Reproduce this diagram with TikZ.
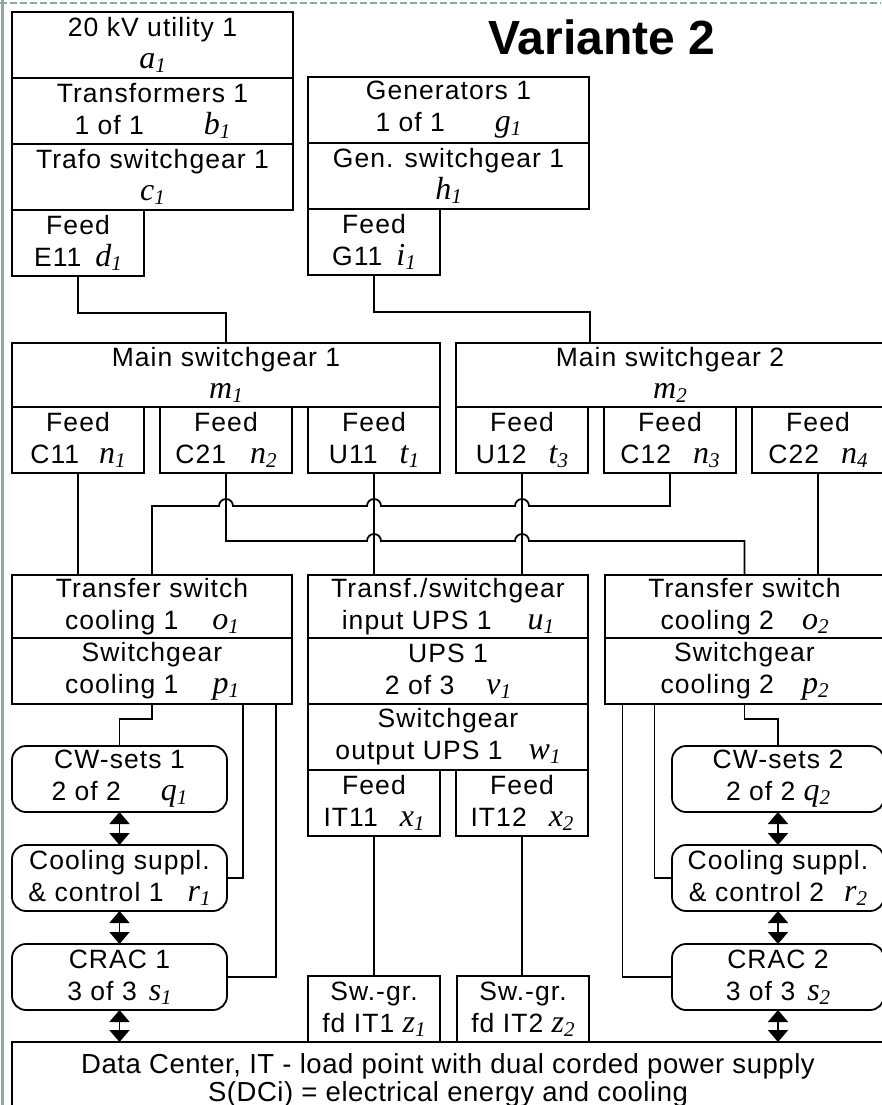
\documentclass[tikz,border=0pt]{standalone}
\usepackage{fontspec}
\setmainfont{Liberation Sans}
\newfontfamily\boxfont[LetterSpace=4]{Liberation Sans}
\newfontfamily\dcfont[LetterSpace=2]{Liberation Sans}
\newfontfamily\varfont{Liberation Serif}
\usetikzlibrary{positioning, arrows.meta}

\definecolor{frameline}{RGB}{140,168,168}

% italic variable with subscript
\newcommand{\vn}[2]{{\varfont\itshape\fontsize{32}{32}\selectfont #1\raisebox{-4pt}{\fontsize{21}{21}\selectfont #2}}}

\begin{document}
\begin{tikzpicture}[x=1pt, y=-1pt, node distance=0pt,
    blk/.style={draw, line width=1.8pt, inner sep=0pt, outer sep=0pt, align=center, font=\boxfont\fontsize{26.5}{32}\selectfont},
    wide/.style={blk, anchor=north west, minimum width=281pt, minimum height=66pt},
    feed/.style={blk, anchor=north west, minimum width=132pt, minimum height=66pt},
    main/.style={blk, anchor=north west, minimum width=428pt, minimum height=64pt},
    unit/.style={blk, anchor=north west, rounded corners=14pt, minimum width=215pt, minimum height=66pt},
    link/.style={line width=1.8pt},
    both/.style={link, {Triangle[width=20pt,length=12pt]}-{Triangle[width=20pt,length=12pt]}}]
        \useasboundingbox (0,0) rectangle (881,1105);

        % Frame
        \draw[frameline, line width=1.5pt, dash pattern=on 7pt off 3pt] (0,3) -- (881,3);
        \draw[frameline, line width=3pt] (2,0) -- (2,1105);

        % Supply
        \node[wide] (a1) at (12,12) {20 kV utility 1\\ \vn{a}{1}};
        \node[wide, below=of a1] (b1) {Transformers 1\\ 1 of 1\hspace{60pt}\vn{b}{1}};
        \node[wide, below=of b1] (c1) {Trafo switchgear 1\\ \vn{c}{1}};
        \node[feed, below=of c1.south west, anchor=north west] (d1) {Feed\\ E11\hspace{14pt}\vn{d}{1}};

        \node[wide] (g1) at (308,77) {Generators 1\\ 1 of 1\hspace{50pt}\vn{g}{1}};
        \node[wide, below=of g1] (h1) {Gen. switchgear 1\\ \vn{h}{1}};
        \node[feed, below=of h1.south west, anchor=north west] (i1) {Feed\\ G11\hspace{14pt}\vn{i}{1}};

        \node[font=\fontsize{48}{48}\selectfont\bfseries] (title) at (602,37) {Variante 2};

        % Main switchgear
        \node[main] (m1) at (12,343) {Main switchgear 1\\ \vn{m}{1}};
        \node[main] (m2) at (456,343) {Main switchgear 2\\ \vn{m}{2}};
        \node[feed, below=of m1.south west, anchor=north west] (n1) {Feed\\ C11\hspace{20pt}\vn{n}{1}};
        \node[feed, right=16pt of n1] (n2) {Feed\\ C21\hspace{24pt}\vn{n}{2}};
        \node[feed, right=16pt of n2] (t1) {Feed\\ U11\hspace{22pt}\vn{t}{1}};
        \node[feed, below=of m2.south west, anchor=north west] (t3) {Feed\\ U12\hspace{22pt}\vn{t}{3}};
        \node[feed, right=16pt of t3] (n3) {Feed\\ C12\hspace{22pt}\vn{n}{3}};
        \node[feed, right=16pt of n3] (n4) {Feed\\ C22\hspace{22pt}\vn{n}{4}};

        % Transfer switches and UPS
        \node[wide, minimum width=280pt, minimum height=63pt] (o1) at (12,575) {Transfer switch\\ cooling 1\hspace{34pt}\vn{o}{1}};
        \node[wide, minimum width=280pt, below=of o1] (p1) {Switchgear\\ cooling 1\hspace{34pt}\vn{p}{1}};
        \node[wide, minimum width=280pt, minimum height=63pt] (u1) at (308,575) {Transf./switchgear\\ input UPS 1\hspace{36pt}\vn{u}{1}};
        \node[wide, minimum width=280pt, below=of u1] (v1) {UPS 1\\ 2 of 3\hspace{32pt}\vn{v}{1}};
        \node[wide, minimum width=280pt, below=of v1] (w1) {Switchgear\\ output UPS 1\hspace{26pt}\vn{w}{1}};
        \node[feed, below=of w1.south west, anchor=north west] (x1) {Feed\\ IT11\hspace{22pt}\vn{x}{1}};
        \node[feed, right=16pt of x1] (x2) {Feed\\ IT12\hspace{22pt}\vn{x}{2}};
        \node[wide, minimum width=279pt, minimum height=63pt] (o2) at (605,575) {Transfer switch\\ cooling 2\hspace{28pt}\vn{o}{2}};
        \node[wide, minimum width=279pt, below=of o2] (p2) {Switchgear\\ cooling 2\hspace{28pt}\vn{p}{2}};

        % Cooling units
        \node[unit] (q1) at (12,746) {CW-sets 1\\ 2 of 2\hspace{40pt}\vn{q}{1}};
        \node[unit, below=33pt of q1] (r1) {Cooling suppl.\\ \& control 1\hspace{24pt}\vn{r}{1}};
        \node[unit, below=33pt of r1] (s1) {CRAC 1\\ 3 of 3\hspace{12pt}\vn{s}{1}};
        \node[unit, minimum width=212pt] (q2) at (672,746) {CW-sets 2\\ 2 of 2\hspace{8pt}\vn{q}{2}};
        \node[unit, minimum width=212pt, below=33pt of q2] (r2) {Cooling suppl.\\ \& control 2\hspace{20pt}\vn{r}{2}};
        \node[unit, minimum width=212pt, below=33pt of r2] (s2) {CRAC 2\\ 3 of 3\hspace{12pt}\vn{s}{2}};

        % IT feeds and load point
        \node[feed] (z1) at (308,976) {Sw.-gr.\\ fd IT1 \vn{z}{1}};
        \node[feed] (z2) at (457,976) {Sw.-gr.\\ fd IT2 \vn{z}{2}};
        \node[blk, anchor=north west, minimum width=872pt, minimum height=76pt, font=\dcfont\fontsize{27.5}{28}\selectfont] (dc) at (12,1042) {Data Center, IT - load point with dual corded power supply\\ S(DCi) = electrical energy and cooling};

        % Supply links
        \draw[link] (d1.south) -- ++(0,37) -| (m1.north);
        \draw[link] (i1.south) -- ++(0,37) -| ([xshift=134pt]m2.north west);

        % Feeds to transfer switches and UPS, with jumps
        \draw[link] (n1.south) -- (n1.south |- o1.north);
        \draw[link] (n2.south) -- ++(0,68) -- ++(141,0) arc[start angle=180, end angle=0, radius=7pt]
            -- ++(134,0) arc[start angle=180, end angle=0, radius=7pt] -| (o2.north);
        \draw[link] (n3.south) -- ++(0,33) -- ++(-141,0) arc[start angle=0, end angle=180, radius=7pt]
            -- ++(-134,0) arc[start angle=0, end angle=180, radius=7pt]
            -- ++(-134,0) arc[start angle=0, end angle=180, radius=7pt] -| (o1.north);
        \draw[link] (t1.south) -- (t1.south |- u1.north);
        \draw[link] (t3.south) -- (t3.south |- u1.north);
        \draw[link] (n4.south) -- (n4.south |- o2.north);

        % Cooling links
        \draw[link] (p1.south) -- ++(0,15) -| (q1.north);
        \draw[link] ([xshift=91pt]p1.south) |- (r1.east);
        \draw[link] ([xshift=124pt]p1.south) |- (s1.east);
        \draw[link] (p2.south) -- ++(0,15) -| (q2.north);
        \draw[link] ([xshift=-90pt]p2.south) |- (r2.west);
        \draw[link] ([xshift=-122pt]p2.south) |- (s2.west);
        \draw[both] (q1) -- (r1);
        \draw[both] (r1) -- (s1);
        \draw[both] (s1.south) -- (s1.south |- dc.north);
        \draw[both] (q2) -- (r2);
        \draw[both] (r2) -- (s2);
        \draw[both] (s2.south) -- (s2.south |- dc.north);

        % IT links
        \draw[link] (x1.south) -- (z1.north);
        \draw[link] (x2.south) -- (x2.south |- z2.north);
\end{tikzpicture}
\end{document}
